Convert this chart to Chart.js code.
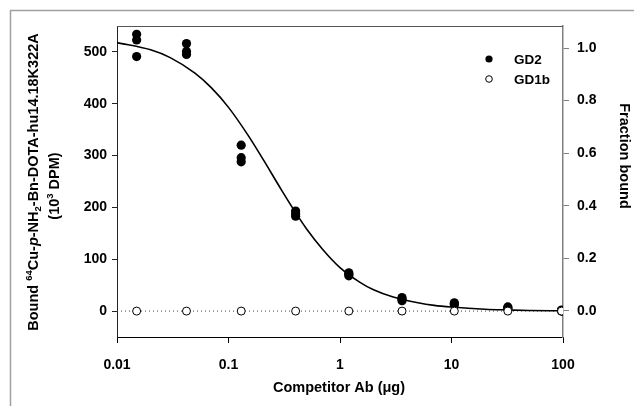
<!DOCTYPE html>
<html><head><meta charset="utf-8">
<script src="https://cdn.jsdelivr.net/npm/chart.js@4/dist/chart.umd.min.js"></script>
<style>html,body{margin:0;padding:0;background:#fff}canvas{display:block}</style>
</head><body>
<canvas id="c" width="634" height="406"></canvas>
<script>
// ---- data ----
const concentrations = [0.015, 0.042, 0.13, 0.4, 1.2, 3.6, 10.6, 32, 97];
const gd2Rep1 = [534, 516, 320, 193, 74, 26, 16, 8, 2];
const gd2Rep2 = [523, 501, 296, 188, 71, 23, 14, 6, 1];
const gd2Rep3 = [491, 495, 288, 183, 68, 20, 12, 5, 0];
const gd1b    = [0, 0, 0, 0, 0, 0, 0, 0, 0];
const fitX = [0.01, 0.02, 0.03, 0.05, 0.07, 0.1, 0.15, 0.2, 0.3, 0.4, 0.5, 0.7, 1, 1.5, 2, 3, 5, 7, 10, 20, 30, 50, 100];
const fitY = [518, 504, 489, 459, 431, 393, 339, 296, 233, 190, 159, 119, 84, 56, 41, 27, 16, 11, 7.8, 3.6, 2.3, 1.2, 0.5];
const gd1bFitX = [0.01, 100];
const gd1bFitY = [0, 0];
const xTicks = [0.01, 0.1, 1, 10, 100];
const leftTicks = [0, 100, 200, 300, 400, 500];
const rightTicks = [0, 0.2, 0.4, 0.6, 0.8, 1.0];

const FF = '"Liberation Sans", Arial, Helvetica, sans-serif';
const tickFont = {family: FF, size: 14, weight: 'bold'};

const gd2Points = [];
concentrations.forEach((c, i) => {
  gd2Points.push({x: c, y: gd2Rep1[i]}, {x: c, y: gd2Rep2[i]}, {x: c, y: gd2Rep3[i]});
});
const gd1bPoints = concentrations.map((c, i) => ({x: c, y: gd1b[i]}));
const fitPoints = fitX.map((x, i) => ({x, y: fitY[i]}));
const gd1bFit = gd1bFitX.map((x, i) => ({x, y: gd1bFitY[i]}));

function drawRich(ctx, segs, cx, cy) {
  let total = 0;
  segs.forEach(s => { ctx.font = s.f; s.w = ctx.measureText(s.t).width; total += s.w; });
  let x = cx - total / 2;
  segs.forEach(s => {
    ctx.font = s.f;
    ctx.fillText(s.t, x, cy + (s.dy || 0));
    x += s.w;
  });
}

const decor = {
  id: 'decor',
  beforeDraw(chart) {
    const ctx = chart.ctx;
    ctx.save();
    ctx.fillStyle = '#fff';
    ctx.fillRect(0, 0, chart.width, chart.height);
    ctx.strokeStyle = '#a0a0a0';
    ctx.lineWidth = 1.5;
    ctx.beginPath();
    ctx.moveTo(10.5, 406);
    ctx.lineTo(10.5, 10.5);
    ctx.lineTo(634, 10.5);
    ctx.stroke();
    ctx.restore();
  },
  afterDraw(chart) {
    const ctx = chart.ctx;
    const a = chart.chartArea;
    ctx.save();
    // top frame line
    ctx.strokeStyle = '#555';
    ctx.lineWidth = 1;
    ctx.beginPath();
    ctx.moveTo(a.left, Math.round(a.top) + 0.5);
    ctx.lineTo(a.right, Math.round(a.top) + 0.5);
    ctx.stroke();

    ctx.fillStyle = '#000';
    ctx.textBaseline = 'middle';
    ctx.textAlign = 'left';
    const B = 'bold 14.5px ' + FF, S = 'bold 9.5px ' + FF, I = 'italic bold 14.5px ' + FF;
    // left title
    ctx.save();
    ctx.translate(34, 182);
    ctx.rotate(-Math.PI / 2);
    drawRich(ctx, [
      {t: 'Bound ', f: B}, {t: '64', f: S, dy: -5}, {t: 'Cu-', f: B}, {t: 'p', f: I},
      {t: '-NH', f: B}, {t: '2', f: S, dy: 4}, {t: '-Bn-DOTA-hu14.18K322A', f: B}
    ], 0, 0);
    ctx.restore();
    ctx.save();
    ctx.translate(55, 186);
    ctx.rotate(-Math.PI / 2);
    drawRich(ctx, [{t: '(10', f: B}, {t: '3', f: S, dy: -5}, {t: ' DPM)', f: B}], 0, 0);
    ctx.restore();
    // right title
    ctx.save();
    ctx.translate(624, 156);
    ctx.rotate(Math.PI / 2);
    drawRich(ctx, [{t: 'Fraction bound', f: B}], 0, 0);
    ctx.restore();
    // x title
    drawRich(ctx, [{t: 'Competitor Ab (\u03bcg)', f: B}], 339, 388);

    // legend
    ctx.fillStyle = '#000';
    ctx.beginPath(); ctx.arc(489, 59, 3.6, 0, Math.PI * 2); ctx.fill();
    ctx.fillStyle = '#fff'; ctx.strokeStyle = '#000'; ctx.lineWidth = 1;
    ctx.beginPath(); ctx.arc(489, 79, 3.3, 0, Math.PI * 2); ctx.fill(); ctx.stroke();
    ctx.fillStyle = '#000';
    ctx.font = 'bold 13.5px ' + FF;
    ctx.fillText('GD2', 514, 60);
    ctx.fillText('GD1b', 514, 80);
    ctx.restore();
  }
};

new Chart(document.getElementById('c'), {
  data: {
    datasets: [
      {type: 'scatter', label: 'GD1b', data: gd1bPoints, yAxisID: 'y', order: 0,
       pointRadius: 4, pointBackgroundColor: '#fff', pointBorderColor: '#000', pointBorderWidth: 1},
      {type: 'scatter', label: 'GD2', data: gd2Points, yAxisID: 'y', order: 1,
       pointRadius: 4.6, pointBackgroundColor: '#000', pointBorderColor: '#000', pointBorderWidth: 0},
      {type: 'line', label: 'GD2 fit', data: fitPoints, yAxisID: 'y', order: 2,
       borderColor: '#000', borderWidth: 1.6, pointRadius: 0, cubicInterpolationMode: 'monotone', fill: false},
      {type: 'line', label: 'GD1b fit', data: gd1bFit, yAxisID: 'y', order: 3,
       borderColor: '#444', borderWidth: 1, borderDash: [1, 3], pointRadius: 0, fill: false}
    ]
  },
  options: {
    responsive: false,
    devicePixelRatio: 1,
    animation: false,
    events: [],
    layout: {padding: {top: 26, left: 0, right: 0, bottom: 0}},
    plugins: {legend: {display: false}, tooltip: {enabled: false}},
    scales: {
      x: {
        type: 'logarithmic', position: 'bottom', min: 0.01, max: 100,
        afterBuildTicks: s => { s.ticks = xTicks.map(v => ({value: v})); },
        afterFit: s => { s.height = 69; },
        ticks: {callback: v => String(v), font: tickFont, color: '#000', padding: 14, autoSkip: false, maxRotation: 0},
        grid: {display: true, drawOnChartArea: false, drawTicks: true, tickLength: 6, color: '#000'},
        border: {display: true, color: '#000', width: 1},
        title: {display: false}
      },
      y: {
        type: 'linear', position: 'left', min: -50, max: 550,
        afterBuildTicks: s => { s.ticks = leftTicks.map(v => ({value: v})); },
        afterFit: s => { s.width = 117; },
        ticks: {callback: v => String(v), font: tickFont, color: '#000', padding: 5},
        grid: {display: true, drawOnChartArea: false, drawTicks: true, tickLength: 5, color: '#222'},
        border: {display: true, color: '#222', width: 1}
      },
      y2: {
        type: 'linear', position: 'right', min: -0.0989, max: 1.0837,
        afterBuildTicks: s => { s.ticks = rightTicks.map(v => ({value: v})); },
        afterFit: s => { s.width = 71; },
        ticks: {callback: v => v.toFixed(1), font: tickFont, color: '#000', padding: 8},
        grid: {display: true, drawOnChartArea: false, drawTicks: true, tickLength: 6, color: '#808080'},
        border: {display: true, color: '#808080', width: 1.5}
      }
    }
  },
  plugins: [decor]
});
</script>
</body></html>
